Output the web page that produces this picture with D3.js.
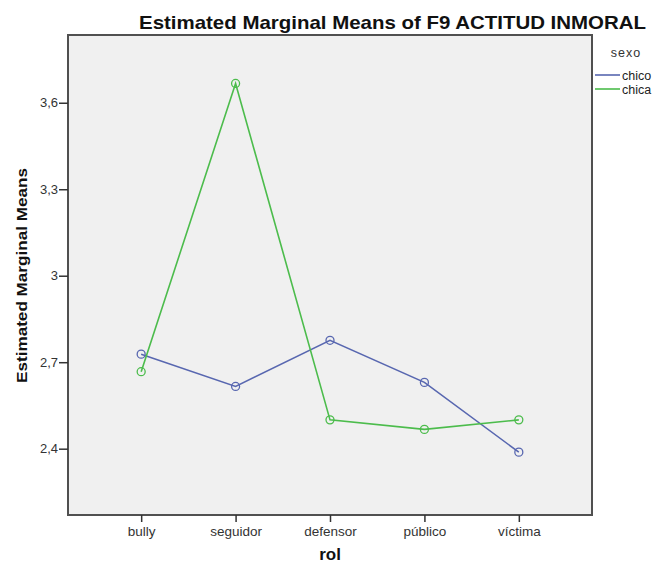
<!DOCTYPE html>
<html>
<head>
<meta charset="utf-8">
<script src="https://cdn.jsdelivr.net/npm/d3@7"></script>
<style>
  body { margin: 0; background: #fff; }
  text { font-family: Arial, "Liberation Sans", sans-serif; }
</style>
</head>
<body>
<div id="chart"></div>
<script>
// data
const roles = ["bully", "seguidor", "defensor", "público", "víctima"];
const chico = [2.728, 2.616, 2.776, 2.630, 2.388];
const chica = [2.667, 3.667, 2.500, 2.467, 2.500];
const yTicks = [2.4, 2.7, 3, 3.3, 3.6];
const seriesNames = ["chico", "chica"];
const colors = { chico: "#5867b0", chica: "#4cbc4c" };

const W = 657, H = 565;
const plot = { left: 68, right: 592, top: 35, bottom: 515 };

const svg = d3.select("#chart").append("svg")
  .attr("width", W)
  .attr("height", H);

const x = d3.scalePoint()
  .domain(roles)
  .range([plot.left, plot.right])
  .padding(0.775);

const y = d3.scaleLinear()
  .domain([2.17, 3.835])
  .range([plot.bottom, plot.top]);

// plot background + frame
svg.append("rect")
  .attr("x", plot.left).attr("y", plot.top)
  .attr("width", plot.right - plot.left)
  .attr("height", plot.bottom - plot.top)
  .attr("fill", "#f0f0f0")
  .attr("stroke", "#505050")
  .attr("stroke-width", 2);

// y axis
const yAxis = svg.append("g")
  .attr("transform", `translate(${plot.left},0)`)
  .call(d3.axisLeft(y).tickValues(yTicks).tickSize(9).tickPadding(1)
    .tickFormat(d => String(d).replace(".", ",")));
yAxis.select(".domain").remove();
yAxis.selectAll(".tick line").attr("stroke", "#333").attr("stroke-width", 1.5);
yAxis.selectAll(".tick text").attr("fill", "#333").style("font-size", "13px");

// x axis
const xAxis = svg.append("g")
  .attr("transform", `translate(0,${plot.bottom})`)
  .call(d3.axisBottom(x).tickSize(7).tickPadding(4));
xAxis.select(".domain").remove();
xAxis.selectAll(".tick line").attr("stroke", "#333").attr("stroke-width", 1.5);
xAxis.selectAll(".tick text").attr("fill", "#333").style("font-size", "13.5px");

// lines and markers
const series = [
  { name: "chico", values: chico },
  { name: "chica", values: chica }
];
const line = d3.line()
  .x((d, i) => x(roles[i]))
  .y(d => y(d));

series.forEach(s => {
  svg.append("path")
    .datum(s.values)
    .attr("fill", "none")
    .attr("stroke", colors[s.name])
    .attr("stroke-width", 1.6)
    .attr("d", line);

  svg.append("g")
    .selectAll("circle")
    .data(s.values)
    .join("circle")
    .attr("cx", (d, i) => x(roles[i]))
    .attr("cy", d => y(d))
    .attr("r", 4)
    .attr("fill", "none")
    .attr("stroke", colors[s.name])
    .attr("stroke-width", 1.3);
});

// title
svg.append("text")
  .attr("x", 139).attr("y", 29)
  .attr("textLength", 507)
  .attr("lengthAdjust", "spacingAndGlyphs")
  .style("font-size", "19px")
  .style("font-weight", "bold")
  .attr("fill", "#111")
  .text("Estimated Marginal Means of F9 ACTITUD INMORAL");

// axis titles
svg.append("text")
  .attr("transform", "translate(26.5,275.5) rotate(-90)")
  .attr("text-anchor", "middle")
  .attr("textLength", 215)
  .attr("lengthAdjust", "spacingAndGlyphs")
  .style("font-size", "15.5px")
  .style("font-weight", "bold")
  .attr("fill", "#111")
  .text("Estimated Marginal Means");

svg.append("text")
  .attr("x", (plot.left + plot.right) / 2)
  .attr("y", 560)
  .attr("text-anchor", "middle")
  .style("font-size", "17px")
  .style("font-weight", "bold")
  .attr("fill", "#111")
  .text("rol");

// legend
svg.append("text")
  .attr("x", 626).attr("y", 57)
  .attr("text-anchor", "middle")
  .style("font-size", "12.5px")
  .style("letter-spacing", "1px")
  .attr("fill", "#333")
  .text("sexo");

const legend = svg.append("g")
  .selectAll("g")
  .data(seriesNames)
  .join("g")
  .attr("transform", (d, i) => `translate(595,${75 + i * 14})`);
legend.append("line")
  .attr("x1", 0).attr("x2", 25)
  .attr("stroke", d => colors[d])
  .attr("stroke-width", 1.6);
legend.append("text")
  .attr("x", 27).attr("y", 4.5)
  .style("font-size", "12.5px")
  .attr("fill", "#222")
  .text(d => d);
</script>
</body>
</html>
